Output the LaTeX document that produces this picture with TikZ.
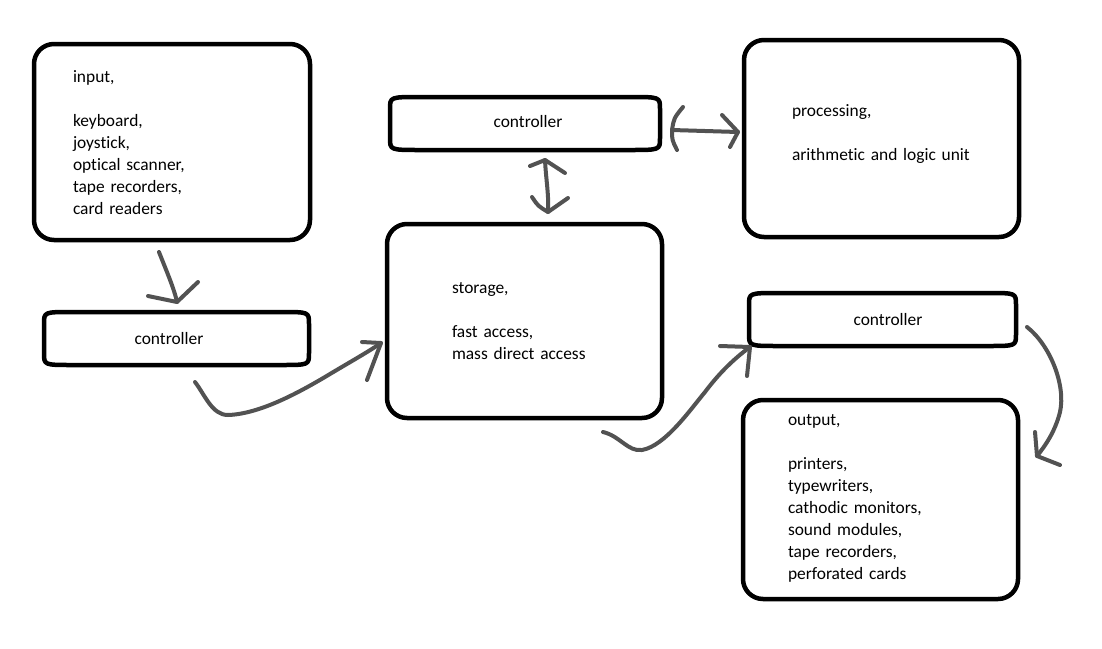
\documentclass[tikz,border=0pt]{standalone}
\usepackage{fontspec}
\setmainfont{Carlito}[Ligatures={NoCommon,NoRare}, WordSpace=0.8]
\begin{document}
\begin{tikzpicture}[x=1pt,y=-1pt,
  every node/.style={inner sep=0pt, outer sep=0pt},
  txt/.style={font=\fontsize{17.4}{22}\selectfont, text width=260pt, align=left, anchor=base west},
  lbl/.style={font=\fontsize{17.4}{22}\selectfont},
  bigbox/.style={draw, line width=4.5pt, rounded corners=20pt},
  ctrlline/.style={draw, line width=4.5pt, line join=round},
  hand/.style={draw=black!68, line width=4pt, line cap=round, line join=round}]
\fill[white] (0,0) rectangle (1102,648);
\useasboundingbox (0,0) rectangle (1102,648);

% big boxes
\node[bigbox, minimum width=276pt, minimum height=196pt] (inbox) at (172,142) {};
\node[bigbox, minimum width=275pt, minimum height=197pt] (probox) at (881.5,138.5) {};
\node[bigbox, minimum width=275pt, minimum height=194pt] (stobox) at (524.5,321) {};
\node[bigbox, minimum width=275pt, minimum height=199pt] (outbox) at (880.5,499.5) {};

% controllers
\draw[ctrlline] (72,312) -- (281,312) .. controls (309,312) .. (309,324) -- (309,353) .. controls (309,365) .. (281,365) -- (72,365) .. controls (44,365) .. (44,353) -- (44,324) .. controls (44,312) .. (72,312) -- cycle;
\node[lbl] (ctlL) at (169,339) {controller};

\draw[ctrlline] (420,97) -- (630,97) .. controls (660,97) .. (660,109) -- (660,138) .. controls (660,150) .. (630,150) -- (420,150) .. controls (390,150) .. (390,138) -- (390,109) .. controls (390,97) .. (420,97) -- cycle;
\node[lbl] (ctlT) at (528,122) {controller};

\draw[ctrlline] (779,293) -- (988,293) .. controls (1016,293) .. (1016,305) -- (1016,334) .. controls (1016,346) .. (988,346) -- (779,346) .. controls (749,346) .. (749,334) -- (749,305) .. controls (749,293) .. (779,293) -- cycle;
\node[lbl] (ctlR) at (888,320) {controller};

% texts
\node[txt] (intxt) at (73,82) {input,\\[22pt]keyboard,\\joystick,\\optical scanner,\\tape recorders,\\card readers};
\node[txt] (protxt) at (792,116) {processing,\\[22pt]arithmetic and logic unit};
\node[txt] (stotxt) at (452,293) {storage,\\[22pt]fast access,\\mass direct access};
\node[txt] (outtxt) at (788,425) {output,\\[22pt]printers,\\typewriters,\\cathodic monitors,\\sound modules,\\tape recorders,\\perforated cards};

% connector end points
\coordinate (a1s) at (159,252); \coordinate (a1e) at (177,302);
\coordinate (a2s) at (195,382); \coordinate (a2e) at (381,343);
\coordinate (a3s) at (545,160); \coordinate (a3e) at (548,212);
\coordinate (a4s) at (672,130); \coordinate (a4e) at (738,132);
\coordinate (a5s) at (603,432); \coordinate (a5e) at (750,347);
\coordinate (a6s) at (1027,327); \coordinate (a6e) at (1037,456);

% input -> left controller
\draw[hand] (a1s) .. controls (166,270) and (174,288) .. (a1e);
\draw[hand] (148,296) -- (a1e) -- (198,282);
% left controller -> storage
\draw[hand] (a2s) .. controls (205,395) and (212,415) .. (228,415) .. controls (260,414) and (300,392) .. (330,374) .. controls (350,362) and (368,352) .. (a2e);
\draw[hand] (362,342) -- (a2e) -- (367,380);
% top controller <-> storage
\draw[hand] (a3s) .. controls (546,180) and (549,195) .. (a3e);
\draw[hand] (530,166) -- (a3s) -- (565,173);
\draw[hand] (532,197) .. controls (538,206) .. (a3e) -- (568,198);
% top controller <-> processing
\draw[hand] (a4s) -- (a4e);
\draw[hand] (683,107) .. controls (674,118) .. (a4s) .. controls (672,140) .. (677,150);
\draw[hand] (722,115) -- (a4e) -- (730,147);
% storage -> right controller
\draw[hand] (a5s) .. controls (620,436) and (628,452) .. (642,450) .. controls (665,446) and (690,410) .. (705,392) .. controls (720,372) and (735,358) .. (a5e);
\draw[hand] (720,346) -- (a5e) -- (747,376);
% right controller -> output
\draw[hand] (a6s) .. controls (1050,345) and (1066,385) .. (1060,412) .. controls (1055,432) and (1045,446) .. (a6e);
\draw[hand] (1035,432) -- (a6e) -- (1060,465);
\end{tikzpicture}
\end{document}
